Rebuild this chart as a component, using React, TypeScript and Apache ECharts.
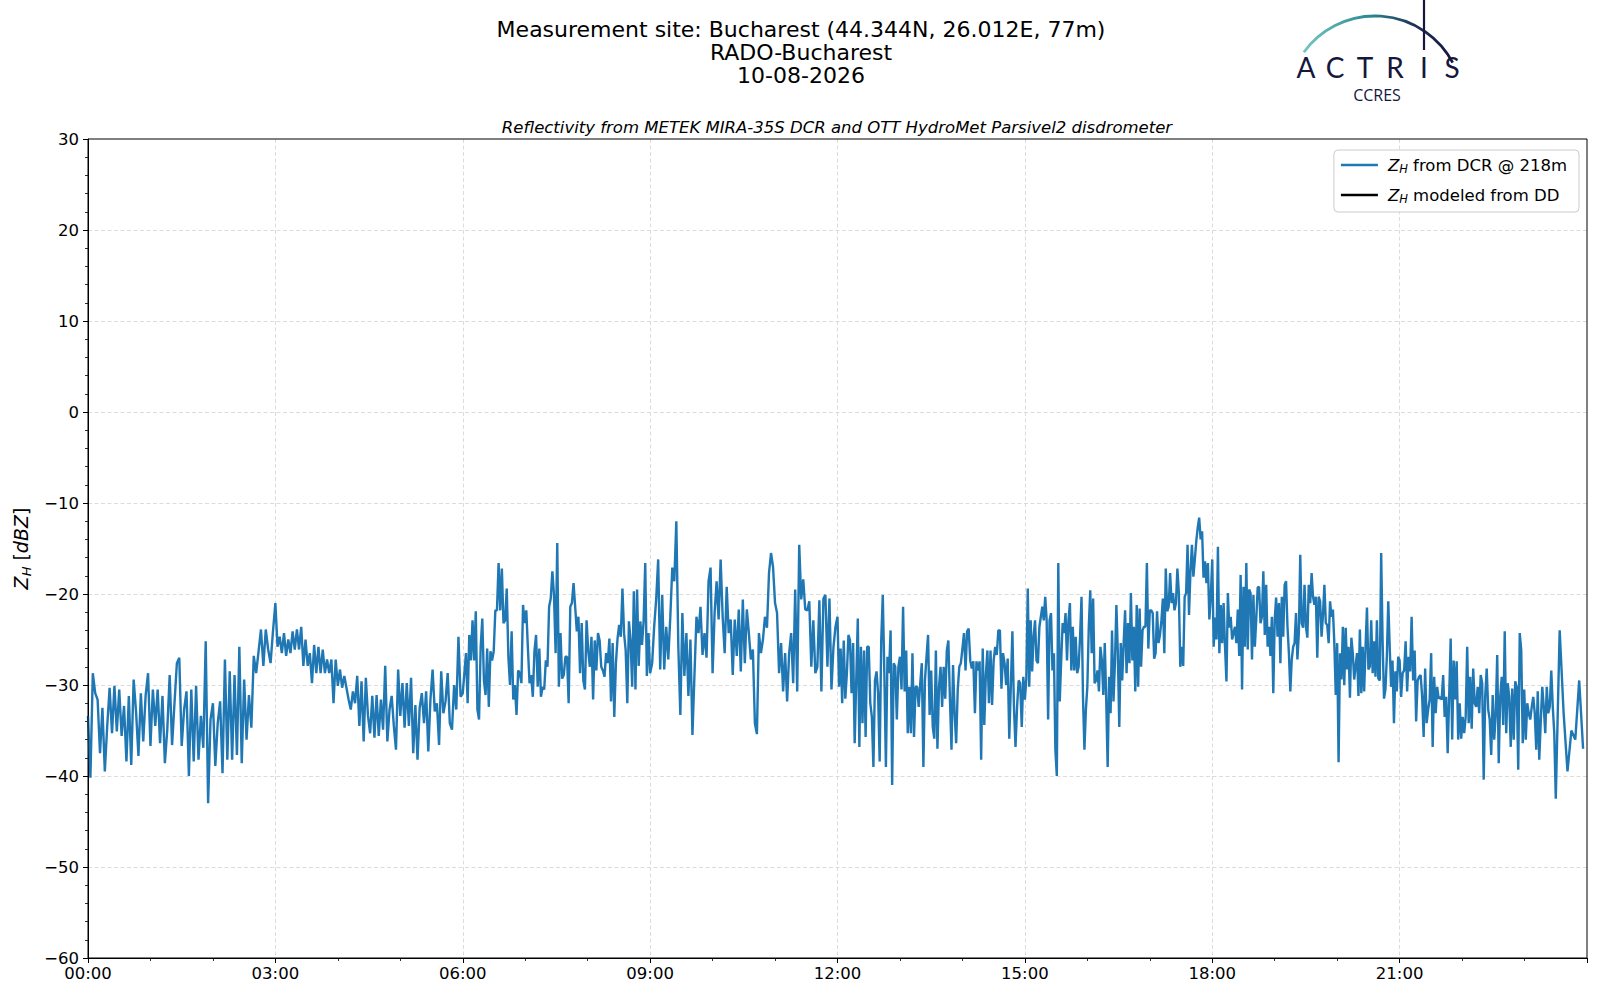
import React, { useEffect, useRef } from "react";
import * as echarts from "echarts";

const timeTickLabels = ["00:00", "03:00", "06:00", "09:00", "12:00", "15:00", "18:00", "21:00"];
const seriesNames = ["Z_H from DCR @ 218m", "Z_H modeled from DD"];

// segments of the DCR reflectivity trace (hours) (dBZ)
const segmentStartHours = [0, 3, 6, 9, 12, 15, 18, 21, 23.5];
const segmentEndHours = [3, 6, 9, 12, 15, 18, 21, 23.5, 24];

const zh00to03 = [
  -33.4, -40.2, -28.7, -30.9, -31.6, -37.5, -32.5, -39.5, -34.5, -30.3,
  -35.3, -30.1, -35.1, -30.5, -35.6, -32.3, -38.4, -31.2, -38.8, -29.4,
  -32.9, -37.8, -30.9, -36.2, -31.1, -28.7, -36.7, -30.5, -34.5, -30.5,
  -36.4, -31.2, -38.6, -34.9, -28.9, -36.6, -32.0, -27.6, -27.0, -36.7,
  -32.7, -30.7, -40.0, -30.5, -38.4, -30.1, -38.2, -33.4, -36.9, -25.2,
  -43.0, -33.8, -32.0, -38.9, -34.2, -31.8, -39.7, -27.2, -38.2, -28.5,
  -38.2, -28.9, -37.7, -25.8, -38.6, -29.4, -36.0, -31.1, -34.7, -26.8,
  -28.7, -26.3, -23.9, -27.9, -23.9, -26.1, -27.6, -24.1,
];
const zh03to06 = [
  -21.0, -25.8, -24.7, -26.5, -24.3, -26.8, -25.0, -26.5, -24.1, -26.1,
  -23.9, -26.1, -23.6, -27.9, -25.0, -27.9, -26.5, -29.8, -25.6, -28.7,
  -25.8, -28.7, -26.1, -28.7, -27.2, -28.7, -27.2, -32.0, -27.2, -30.1,
  -28.3, -30.3, -29.0, -30.3, -31.6, -32.7, -30.7, -32.0, -29.0, -34.5,
  -29.6, -36.2, -29.2, -33.4, -35.3, -31.2, -35.8, -31.1, -35.6, -31.6,
  -34.9, -27.9, -36.2, -32.7, -31.2, -34.5, -37.1, -28.3, -33.4, -29.8,
  -34.7, -29.8, -34.5, -29.2, -37.5, -32.2, -38.2, -32.5, -30.9, -34.2,
  -30.7, -37.3, -31.6, -28.3, -32.9, -32.0, -36.6, -28.5, -33.1, -31.8,
  -28.7, -34.2, -34.9, -30.0, -32.7, -24.7, -31.3,
];
const zh06to09 = [
  -30.9, -28.7, -26.5, -32.0, -24.5, -27.3, -22.9, -27.3, -21.9, -32.7,
  -33.8, -25.8, -22.7, -29.5, -31.1, -26.0, -32.4, -26.3, -27.3, -26.3,
  -21.8, -21.8, -16.6, -21.8, -17.2, -23.2, -22.9, -19.4, -26.9, -30.0,
  -24.1, -31.6, -30.0, -33.3, -28.4, -28.7, -29.8, -21.2, -23.2, -21.8,
  -26.0, -29.8, -28.9, -31.3, -26.3, -24.5, -30.2, -26.0, -31.3, -30.2,
  -30.5, -27.3, -28.0, -21.4, -20.5, -17.5, -20.1, -26.5, -14.4, -30.2,
  -24.3, -29.3, -28.9, -26.9, -26.9, -32.0, -21.4, -21.0, -18.8, -21.4,
  -24.1, -22.5, -28.7, -23.2, -29.5, -30.5, -22.9, -26.2, -28.0, -24.7,
  -31.6, -25.1, -28.4, -24.3, -25.1, -28.0, -28.4, -29.1, -26.5, -27.6,
  -24.9, -31.8, -25.4, -33.5, -27.6, -24.9, -23.4, -24.7, -19.4, -24.3,
  -26.2, -32.0, -23.0, -25.1, -30.2, -19.7, -30.5, -19.5, -27.9, -23.0,
  -25.6, -23.0, -16.6, -29.0, -24.3,
];
const zh09to12 = [
  -28.7, -27.6, -23.6, -20.6, -16.2, -28.3, -20.1, -28.3, -23.6, -27.2,
  -22.6, -17.1, -18.6, -12.0, -25.8, -33.3, -22.1, -29.0, -24.3, -31.2,
  -25.0, -35.5, -28.9, -22.5, -24.3, -21.4, -26.7, -24.3, -27.0, -18.6,
  -17.1, -28.7, -22.1, -18.6, -22.8, -16.2, -22.5, -26.5, -19.2, -24.3,
  -22.8, -28.9, -22.8, -26.8, -21.7, -28.5, -20.6, -27.6, -21.7, -24.3,
  -27.2, -26.1, -34.2, -35.4, -24.3, -26.5, -25.0, -22.5, -23.7, -17.7,
  -15.5, -17.0, -21.0, -22.1, -28.7, -25.4, -30.7, -26.5, -31.8, -26.5,
  -24.3, -29.8, -19.5, -30.7, -14.6, -20.6, -18.4, -21.7, -21.8, -20.8,
  -28.0, -22.9, -28.7, -28.0, -20.7, -30.7, -20.5, -20.1, -28.0, -20.5,
  -30.5, -25.8, -23.6,
];
const zh12to15 = [
  -22.5, -30.2, -26.0, -32.0, -25.1, -31.5, -28.7, -24.5, -25.1, -30.9,
  -25.4, -36.4, -29.5, -22.7, -36.8, -25.8, -34.2, -26.2, -35.7, -25.8,
  -25.8, -32.0, -33.5, -39.0, -29.5, -28.5, -30.9, -38.4, -25.1, -20.1,
  -28.7, -39.0, -26.9, -28.7, -24.0, -41.0, -27.6, -28.0, -33.8, -28.0,
  -26.9, -30.5, -21.4, -30.7, -26.2, -35.3, -30.2, -35.3, -26.5, -35.7,
  -30.2, -30.2, -32.4, -29.8, -27.6, -39.0, -29.5, -26.9, -24.5, -33.3,
  -28.4, -34.6, -35.9, -26.2, -37.0, -30.2, -28.0, -32.4, -28.0, -31.5,
  -26.2, -25.1, -31.5, -37.1, -27.8, -33.1, -36.4, -30.5, -28.0, -27.6,
  -26.0, -24.3, -28.4, -24.1, -23.8, -27.3, -28.2, -27.4, -33.1, -27.4,
  -28.4, -27.4, -38.2, -26.0, -34.4, -28.9, -26.2, -32.0, -26.2, -32.2,
  -27.3, -25.8, -26.7, -24.0, -24.0, -30.4, -26.5, -27.6, -30.0, -27.1,
  -35.9, -30.2, -24.1, -32.4, -36.8, -32.4, -29.5, -29.8, -34.6, -29.1,
];
const zh15to18 = [
  -31.6, -29.3, -19.4, -30.2, -22.9, -28.5, -24.7, -22.9, -27.3, -27.6,
  -23.6, -22.5, -21.4, -22.9, -20.3, -22.9, -33.8, -22.9, -22.1, -28.4,
  -26.5, -37.1, -40.0, -16.6, -31.8, -27.3, -23.2, -24.3, -22.1, -27.3,
  -22.9, -21.0, -28.4, -23.6, -28.4, -24.7, -28.7, -28.0, -24.7, -20.3,
  -31.3, -37.1, -32.7, -30.2, -23.6, -19.6, -26.5, -20.5, -29.8, -29.5,
  -28.4, -30.7, -25.8, -27.3, -31.1, -25.4, -31.6, -39.0, -29.1, -33.1,
  -24.0, -31.8, -27.6, -21.2, -26.5, -34.6, -25.4, -29.5, -25.4, -21.8,
  -28.7, -23.2, -27.6, -19.9, -27.3, -23.6, -30.7, -21.2, -30.2, -21.6,
  -28.0, -24.0, -23.6, -23.6, -16.6, -26.0, -21.8, -21.8, -22.1, -27.1,
  -26.5, -21.9, -25.4, -24.5, -22.9, -20.5, -26.5, -17.2, -21.9, -21.4,
  -17.7, -21.0, -19.9, -21.8, -21.0, -17.2, -19.9, -28.0, -25.8, -27.9,
  -20.3, -19.9, -14.6, -22.3, -17.5, -14.6, -18.1, -16.2, -14.2, -12.7,
  -11.6, -14.0, -13.1, -18.2, -16.4, -18.8, -16.6, -22.8, -20.3,
];
const zh18to21 = [
  -16.2, -25.8, -22.6, -25.0, -14.8, -26.5, -21.2, -25.4, -21.0, -25.8,
  -29.6, -19.9, -23.7, -22.5, -25.0, -24.3, -23.6, -25.4, -21.7, -26.8,
  -17.9, -30.5, -19.2, -25.8, -16.6, -26.1, -19.5, -19.9, -27.2, -20.1,
  -25.8, -22.8, -19.3, -19.2, -23.2, -22.5, -17.5, -24.5, -19.0, -25.8,
  -23.6, -26.8, -22.5, -30.9, -22.8, -20.4, -24.7, -21.0, -27.6, -20.3,
  -24.7, -19.0, -18.6, -23.6, -26.5, -30.7, -27.2, -25.8, -25.4, -22.1,
  -27.2, -24.3, -15.7, -23.2, -23.7, -19.0, -23.6, -24.8, -19.0, -21.0,
  -17.7, -20.3, -21.2, -20.3, -27.0, -20.3, -20.8, -24.7, -22.3, -19.0,
  -23.2, -23.4, -25.4, -20.8, -22.5, -21.7, -25.4, -31.1, -25.4, -38.5,
  -26.5, -29.4, -23.6, -30.0, -23.7, -28.3, -25.8, -31.4, -24.8, -26.5,
  -29.4, -27.9, -26.5, -31.2, -23.9, -30.9, -25.8, -30.7, -25.8, -21.5,
  -28.3, -28.0, -22.9, -28.7, -25.2, -29.1, -22.9, -29.3, -29.5, -15.5,
  -25.1, -31.5, -30.5, -26.9, -20.8, -25.8, -30.2, -27.3, -34.2, -28.5,
  -30.7, -26.9,
];
const zh21to2330 = [
  -27.3, -31.3, -28.7, -28.4, -25.2, -30.7, -26.9, -28.5, -22.5, -29.5,
  -26.2, -34.0, -29.5, -29.1, -28.9, -31.3, -35.7, -28.2, -34.2, -32.7,
  -31.6, -26.5, -36.8, -29.1, -33.1, -30.2, -31.5, -31.3, -31.6, -28.9,
  -33.5, -31.3, -37.5, -31.3, -24.9, -36.0, -27.3, -31.6, -27.4, -36.0,
  -32.0, -35.9, -33.5, -35.3, -33.5, -25.8, -34.2, -29.1, -34.8, -28.2,
  -32.0, -32.4, -30.2, -33.1, -28.9, -29.8, -40.4, -31.3, -28.2, -32.7,
  -33.8, -37.7, -31.1, -36.0, -33.3, -26.7, -38.6, -31.3, -29.1, -34.4,
  -24.1, -35.3, -29.8, -31.3, -36.8, -30.4, -36.0, -29.6, -30.2, -39.3,
  -24.3, -26.2, -36.4, -30.5, -36.0, -32.0, -33.1, -33.8, -32.4, -31.3,
  -33.1, -37.1, -30.7, -38.2, -34.0, -30.2, -32.4, -35.3, -30.2, -33.1,
  -32.4, -28.4, -32.4, -35.3,
];
const zh2330to24 = [-42.5, -24.0, -33.0, -39.5, -35.0, -36.0, -29.5, -37.0];

const segmentValues = [
  zh00to03, zh03to06, zh06to09, zh09to12, zh12to15,
  zh15to18, zh18to21, zh21to2330, zh2330to24,
];

const FONT = '"DejaVu Sans", sans-serif';
const NAVY = "#15173d";

function buildDcrData(): [number, number][] {
  const out: [number, number][] = [];
  segmentValues.forEach((vals, k) => {
    const s = segmentStartHours[k];
    const e = segmentEndHours[k];
    vals.forEach((v, i) => out.push([s + ((e - s) * i) / vals.length, v]));
  });
  return out;
}

const subRich = {
  i: { fontFamily: FONT, fontStyle: "italic", fontSize: 16.5, lineHeight: 20, color: "#000" },
  s: { fontFamily: FONT, fontStyle: "italic", fontSize: 11.5, lineHeight: 10, verticalAlign: "bottom", color: "#000" },
  t: { fontFamily: FONT, fontSize: 16.5, lineHeight: 20, color: "#000" },
};

const axisRich = {
  i: { fontFamily: FONT, fontStyle: "italic", fontSize: 19, lineHeight: 24, color: "#000" },
  s: { fontFamily: FONT, fontStyle: "italic", fontSize: 13, lineHeight: 12, verticalAlign: "bottom", color: "#000" },
  n: { fontFamily: FONT, fontSize: 19, lineHeight: 24, color: "#000" },
};

const logoLetters = ["A", "C", "T", "R", "I", "S"];

export default function App() {
  const ref = useRef<HTMLDivElement>(null);

  useEffect(() => {
    if (!ref.current) return;
    const chart = echarts.init(ref.current, undefined, { renderer: "svg", width: 1600, height: 1000 });

    const letterX = [1306, 1335, 1365, 1395, 1424, 1452];
    const logoGraphics: any[] = logoLetters.map((ch, i) => ({
      type: "text",
      x: letterX[i],
      y: 67,
      style: {
        text: ch,
        fontFamily: "Lato, 'Noto Sans', sans-serif",
        fontWeight: "normal",
        fontSize: 28,
        lineHeight: 28,
        fill: NAVY,
        align: "center",
        verticalAlign: "middle",
      },
    }));

    const splitLineStyle = { color: "#d3d3d3", width: 0.8, type: [4, 2.5] };

    const option: any = {
      animation: false,
      backgroundColor: "#ffffff",
      textStyle: { fontFamily: FONT },
      grid: {
        left: 88,
        top: 139,
        width: 1499,
        height: 819,
        show: false,
      },
      xAxis: {
        type: "value",
        min: 0,
        max: 24,
        interval: 3,
        axisLine: { show: true, onZero: false, lineStyle: { color: "#000", width: 1 } },
        axisTick: { show: true, length: 5, lineStyle: { color: "#000", width: 1 } },
        minorTick: { show: true, splitNumber: 3, length: 3, lineStyle: { color: "#000", width: 0.8 } },
        axisLabel: {
          color: "#000",
          fontFamily: FONT,
          fontSize: 16.5,
          margin: 7,
          formatter: (v: number) => timeTickLabels[Math.round(v / 3)] ?? "",
        },
        splitLine: { show: true, showMinLine: false, showMaxLine: false, lineStyle: splitLineStyle },
      },
      yAxis: {
        type: "value",
        min: -60,
        max: 30,
        interval: 10,
        name: "{i|Z}{s|H}{n| [}{i|dBZ}{n|]}",
        nameLocation: "middle",
        nameGap: 50,
        nameTextStyle: { rich: axisRich },
        axisLine: { show: true, onZero: false, lineStyle: { color: "#000", width: 1 } },
        axisTick: { show: true, length: 5, lineStyle: { color: "#000", width: 1 } },
        minorTick: { show: true, splitNumber: 5, length: 3, lineStyle: { color: "#000", width: 0.8 } },
        axisLabel: {
          color: "#000",
          fontFamily: FONT,
          fontSize: 16.5,
          margin: 9,
          formatter: (v: number) => (v < 0 ? "\u2212" + Math.abs(v) : String(v)),
        },
        splitLine: { show: true, showMinLine: false, showMaxLine: false, lineStyle: splitLineStyle },
      },
      legend: {
        show: true,
        orient: "vertical",
        right: 21,
        top: 150,
        align: "left",
        icon: "rect",
        itemWidth: 37,
        itemHeight: 2.5,
        itemGap: 10,
        padding: [5, 12, 7, 7],
        borderColor: "#cccccc",
        borderWidth: 1,
        borderRadius: 4,
        backgroundColor: "rgba(255,255,255,0.85)",
        selectedMode: false,
        data: seriesNames,
        textStyle: { color: "#000", fontSize: 16.5, lineHeight: 20, padding: [0, 0, 0, 5], rich: subRich },
        formatter: (name: string) =>
          name === seriesNames[0] ? "{i|Z}{s|H}{t| from DCR @ 218m}" : "{i|Z}{s|H}{t| modeled from DD}",
      },
      series: [
        {
          type: "line",
          name: seriesNames[0],
          data: buildDcrData(),
          showSymbol: false,
          symbol: "none",
          clip: true,
          lineStyle: { color: "#1f77b4", width: 2.4 },
          itemStyle: { color: "#1f77b4" },
          z: 3,
        },
        {
          type: "line",
          name: seriesNames[1],
          data: [],
          showSymbol: false,
          symbol: "none",
          lineStyle: { color: "#000000", width: 2 },
          itemStyle: { color: "#000000" },
        },
      ],
      graphic: [
        {
          type: "rect",
          shape: { x: 88, y: 139, width: 1499, height: 819 },
          style: { fill: "none", stroke: "#000", lineWidth: 1 },
          z: 10,
          silent: true,
        },
        {
          type: "text",
          x: 801,
          y: 29,
          style: {
            text: "Measurement site: Bucharest (44.344N, 26.012E, 77m)",
            fontFamily: FONT,
            fontSize: 22,
            fill: "#000",
            align: "center",
            verticalAlign: "middle",
          },
        },
        {
          type: "text",
          x: 801,
          y: 52,
          style: { text: "RADO-Bucharest", fontFamily: FONT, fontSize: 22, fill: "#000", align: "center", verticalAlign: "middle" },
        },
        {
          type: "text",
          x: 801,
          y: 75,
          style: { text: "10-08-2026", fontFamily: FONT, fontSize: 22, fill: "#000", align: "center", verticalAlign: "middle" },
        },
        {
          type: "text",
          x: 837,
          y: 127,
          style: {
            text: "Reflectivity from METEK MIRA-35S DCR and OTT HydroMet Parsivel2 disdrometer",
            fontFamily: FONT,
            fontStyle: "italic",
            fontSize: 16.5,
            fill: "#000",
            align: "center",
            verticalAlign: "middle",
          },
        },
        {
          type: "arc",
          shape: {
            cx: 1375,
            cy: 104,
            r: 88,
            startAngle: (-144 * Math.PI) / 180,
            endAngle: (-28 * Math.PI) / 180,
            clockwise: true,
          },
          style: {
            fill: "none",
            lineWidth: 2.8,
            stroke: new echarts.graphic.LinearGradient(0, 0, 1, 0, [
              { offset: 0, color: "#74c6c0" },
              { offset: 0.45, color: "#2b8794" },
              { offset: 0.75, color: "#1c2f55" },
              { offset: 1, color: NAVY },
            ]),
          },
        },
        {
          type: "line",
          shape: { x1: 1424, y1: 0, x2: 1424, y2: 50 },
          style: { stroke: NAVY, lineWidth: 2.2 },
        },
        ...logoGraphics,
        {
          type: "text",
          x: 1377,
          y: 95,
          style: {
            text: "CCRES",
            fontFamily: "'Open Sans', 'Noto Sans', sans-serif",
            fontSize: 16,
            lineHeight: 16,
            fill: NAVY,
            align: "center",
            verticalAlign: "middle",
          },
        },
      ],
    };

    chart.setOption(option);
    return () => chart.dispose();
  }, []);

  return (
    <div
      ref={ref}
      style={{ position: "fixed", left: 0, top: 0, width: 1600, height: 1000, background: "#fff" }}
    />
  );
}
